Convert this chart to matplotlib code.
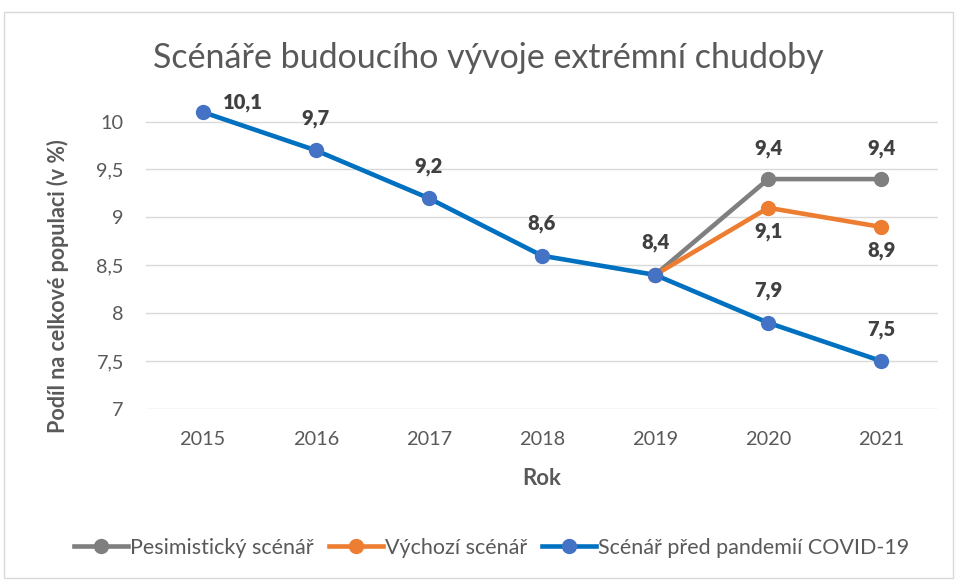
import matplotlib
matplotlib.use("Agg")
import matplotlib.pyplot as plt
from matplotlib.patches import Rectangle

years = ["2015", "2016", "2017", "2018", "2019", "2020", "2021"]
pesimisticky = [None, None, None, None, 8.4, 9.4, 9.4]
vychozi = [None, None, None, None, 8.4, 9.1, 8.9]
pred_pandemii = [10.1, 9.7, 9.2, 8.6, 8.4, 7.9, 7.5]
yticks = [7, 7.5, 8, 8.5, 9, 9.5, 10]

FONT = ["Lato", "DejaVu Sans"]
plt.rcParams['font.family'] = FONT
TXT = "#595959"
LBL = "#404040"

fig = plt.figure(figsize=(9.55, 5.81), dpi=100)
fig.patches.append(Rectangle((0.004, 0.005), 0.994, 0.975, transform=fig.transFigure,
                             fill=False, edgecolor="#D9D9D9", linewidth=1))
ax = fig.add_axes([0.1529, 0.296, 0.8293, 0.5277])

x = list(range(len(years)))

def pts(vals):
    xs = [i for i, v in zip(x, vals) if v is not None]
    ys = [v for v in vals if v is not None]
    return xs, ys

xs, ys = pts(pesimisticky)
ax.plot(xs, ys, color="#7F7F7F", lw=3.3, marker="o", ms=10, mfc="#7F7F7F", mec="#7F7F7F",
        label="Pesimistický scénář", zorder=3)
xs, ys = pts(vychozi)
ax.plot(xs, ys, color="#ED7D31", lw=3.3, marker="o", ms=10, mfc="#ED7D31", mec="#ED7D31",
        label="Výchozí scénář", zorder=3)
xs, ys = pts(pred_pandemii)
ax.plot(xs, ys, color="#0070C0", lw=3.3, marker="o", ms=10, mfc="#4472C4", mec="#4472C4",
        label="Scénář před pandemií COVID-19", zorder=4)

def fmt(v):
    return f"{v:.1f}".replace(".", ",")

lab_kw = dict(fontsize=14.5, fontweight="heavy", color=LBL, ha="center", va="center")
for i, v in enumerate(pred_pandemii):
    if i == 0:
        ax.annotate(fmt(v), (i, v), xytext=(29, 6.5), textcoords="offset points", **lab_kw)
    else:
        ax.annotate(fmt(v), (i, v), xytext=(0, 23), textcoords="offset points", **lab_kw)
for i, v in enumerate(pesimisticky):
    if v is not None and i > 4:
        ax.annotate(fmt(v), (i, v), xytext=(0, 22), textcoords="offset points", **lab_kw)
for i, v in enumerate(vychozi):
    if v is not None and i > 4:
        ax.annotate(fmt(v), (i, v), xytext=(0, -17), textcoords="offset points", **lab_kw)

ax.set_xlim(-0.5, len(years) - 0.5)
ax.set_ylim(7, 10.2)
ax.set_xticks(x)
ax.set_xticklabels(years)
ax.set_yticks(yticks)
ax.set_yticklabels([fmt(t).replace(",0", "") for t in yticks])
ax.tick_params(axis="both", length=0, labelsize=14.3, colors=TXT)
ax.tick_params(axis="x", pad=16)
ax.tick_params(axis="y", pad=16)
ax.yaxis.grid(True, color="#D9D9D9", lw=1)
ax.set_axisbelow(True)
for s in ax.spines.values():
    s.set_visible(False)

fig.text(0.5675, 0.177, "Rok", fontsize=16, fontweight="bold", color=TXT, ha="center", va="center")
fig.text(0.061, 0.508, "Podíl na celkové populaci (v %)", fontsize=15.5, fontweight="bold",
         color=TXT, ha="center", va="center", rotation=90)

fig.text(0.511, 0.9, "Scénáře budoucího vývoje extrémní chudoby", fontsize=24.5, color=TXT,
         ha="center", va="center")

fig.legend(loc="center", bbox_to_anchor=(0.515, 0.057), ncol=3, frameon=False, fontsize=15.5,
           handlelength=2.5, handletextpad=0.1, columnspacing=0.7, labelcolor=TXT)

fig.savefig("out.png", dpi=100)
